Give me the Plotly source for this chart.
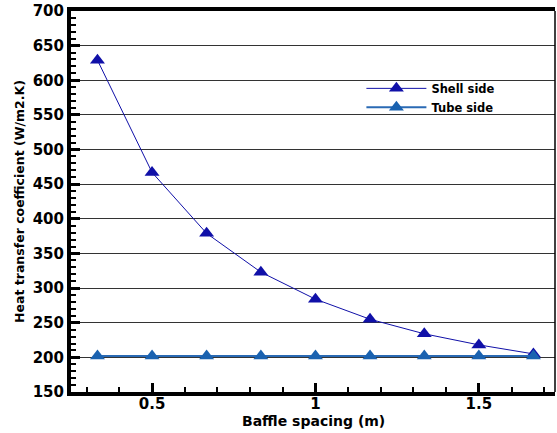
import plotly.graph_objects as go

baffle_spacing = [0.333, 0.5, 0.667, 0.833, 1.0, 1.167, 1.333, 1.5, 1.667]
shell_side = [629, 467, 379, 323, 284, 255, 234, 218, 205]
tube_side = [202, 202, 202, 202, 202, 202, 202, 202, 202]

font_fam = "DejaVu Sans, Arial, sans-serif"

fig = go.Figure()
fig.add_trace(go.Scatter(
    x=baffle_spacing, y=shell_side, name="<b>Shell side</b>",
    mode="lines+markers",
    line=dict(color="#1010A8", width=1),
    marker=dict(symbol="triangle-up", size=13, color="#1010A8"),
))
fig.add_trace(go.Scatter(
    x=baffle_spacing, y=tube_side, name="<b>Tube side</b>",
    mode="lines+markers",
    line=dict(color="#2A6AB4", width=2),
    marker=dict(symbol="triangle-up", size=13, color="#1A62B0"),
))

fig.update_layout(
    width=557, height=433,
    margin=dict(l=71, r=2, t=11, b=41),
    paper_bgcolor="white", plot_bgcolor="white",
    font=dict(family=font_fam, color="black"),
    showlegend=True,
    legend=dict(x=0.60, y=0.835, xanchor="left", yanchor="top",
                bgcolor="rgba(255,255,255,0)", font=dict(size=11.5, family=font_fam),
                itemwidth=60, tracegroupgap=0),
    xaxis=dict(
        range=[0.252, 1.733],
        tickvals=[0.5, 1, 1.5], ticktext=["<b>0.5</b>", "<b>1</b>", "<b>1.5</b>"],
        ticks="inside", ticklen=9, tickwidth=3, tickcolor="black",
        minor=dict(dtick=0.1, tick0=0, ticks="inside", ticklen=5, tickwidth=1.5, tickcolor="black"),
        showline=True, linecolor="black", linewidth=4, mirror=True,
        showgrid=False, zeroline=False,
        ticklabelstandoff=-5,
        tickfont=dict(size=15, family=font_fam),
    ),
    yaxis=dict(
        range=[150, 700],
        tickvals=list(range(150, 701, 50)),
        ticktext=["<b>%d</b>" % v for v in range(150, 701, 50)],
        ticks="inside", ticklen=9, tickwidth=3, tickcolor="black",
        minor=dict(dtick=10, tick0=0, ticks="inside", ticklen=5, tickwidth=1.5, tickcolor="black"),
        showline=True, linecolor="black", linewidth=4,
        showgrid=True, gridcolor="#333333", gridwidth=1, zeroline=False,
        tickfont=dict(size=15, family=font_fam),
        title=dict(text="<b>Heat transfer coefficient (W/m2.K)</b>", font=dict(size=12.5, family=font_fam), standoff=6),
    ),
)
fig.add_annotation(text="<b>Baffle spacing (m)</b>", xref="paper", yref="paper",
                   x=0.5, y=-0.077, xanchor="center", yanchor="middle", showarrow=False,
                   font=dict(size=14, family=font_fam, color="black"))
fig.add_shape(type="line", xref="paper", yref="paper", x0=1, x1=1, y0=0, y1=1,
              line=dict(color="black", width=1.5))

fig.write_html("out.html", config={"displayModeBar": False},
               post_script="document.body.style.margin='0';document.body.style.padding='0';")
